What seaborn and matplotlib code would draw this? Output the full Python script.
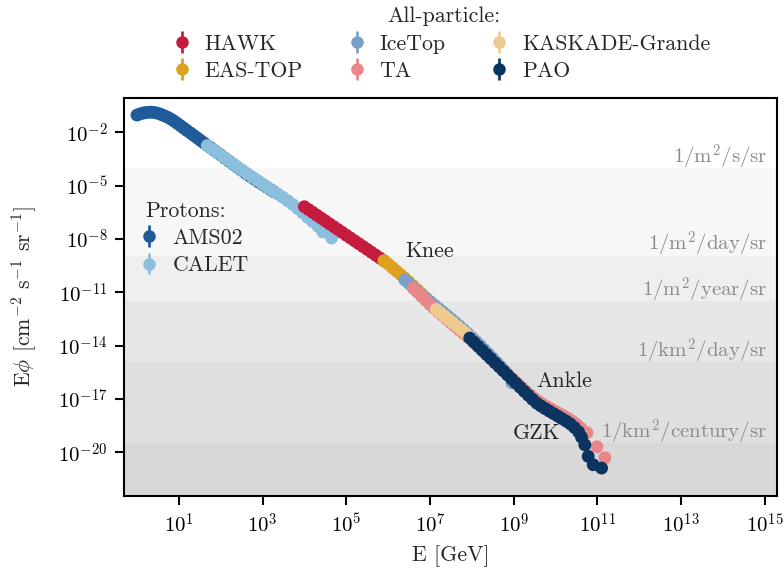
import numpy as np
import pandas as pd
import matplotlib
matplotlib.use("Agg")
import matplotlib.pyplot as plt
import seaborn as sns
from matplotlib.lines import Line2D
from matplotlib.collections import LineCollection
from matplotlib.container import ErrorbarContainer
from matplotlib.ticker import FixedLocator, FuncFormatter, NullLocator
import matplotlib.transforms as mtransforms

# ---------------- data (log10 E [GeV], log10 E*phi [cm^-2 s^-1 sr^-1]) ----------------
ams02_logE = [0.00, 0.08, 0.16, 0.24, 0.32, 0.40, 0.48, 0.56, 0.64, 0.72, 0.80, 0.88,
              0.96, 1.04, 1.12, 1.20, 1.28, 1.36, 1.44, 1.52, 1.60, 1.68, 1.76, 1.84,
              1.92, 2.00, 2.10, 2.20, 2.30, 2.40, 2.50, 2.60, 2.70, 2.80, 2.90, 3.00,
              3.10, 3.20, 3.26]
ams02_logF = [-1.02, -0.95, -0.90, -0.87, -0.86, -0.87, -0.91, -0.97, -1.05, -1.13, -1.23, -1.35,
              -1.48, -1.62, -1.76, -1.90, -2.03, -2.17, -2.31, -2.45, -2.59, -2.73, -2.86, -3.00,
              -3.14, -3.27, -3.45, -3.62, -3.79, -3.96, -4.13, -4.30, -4.46, -4.62, -4.78, -4.93,
              -5.08, -5.23, -5.32]

calet_logE = [1.68, 1.80, 1.92, 2.04, 2.16, 2.28, 2.40, 2.52, 2.64, 2.76, 2.88, 3.00,
              3.12, 3.24, 3.36, 3.48, 3.60, 3.72, 3.84, 3.96, 4.08, 4.20, 4.32, 4.44, 4.65]
calet_logF = [-2.74, -2.94, -3.14, -3.34, -3.54, -3.74, -3.94, -4.14, -4.33, -4.52, -4.71, -4.90,
              -5.09, -5.28, -5.46, -5.64, -5.84, -6.05, -6.28, -6.52, -6.78, -7.02, -7.27, -7.60, -7.94]

hawk_logE = [4.0, 4.1, 4.2, 4.3, 4.4, 4.5, 4.6, 4.7, 4.8, 4.9, 5.0, 5.1, 5.2, 5.3, 5.4,
             5.5, 5.6, 5.7, 5.8, 5.9]
hawk_logF = [-6.18, -6.34, -6.50, -6.66, -6.82, -6.98, -7.14, -7.30, -7.46, -7.62, -7.78,
             -7.94, -8.10, -8.26, -8.42, -8.58, -8.74, -8.90, -9.06, -9.22]

eastop_logE = [5.9, 6.0, 6.1, 6.2, 6.3, 6.4, 6.5, 6.6, 6.7, 6.8, 6.9, 7.0]
eastop_logF = [-9.22, -9.40, -9.60, -9.80, -10.00, -10.20, -10.42, -10.64, -10.86, -11.08, -11.30, -11.52]

icetop_logE = [6.4, 6.5, 6.6, 6.7, 6.8, 6.9, 7.0, 7.1, 7.2, 7.3, 7.4, 7.5, 7.6, 7.7, 7.8,
               7.9, 8.0, 8.1, 8.2, 8.3, 8.4, 8.5, 8.6, 8.7, 8.8, 8.96]
icetop_logF = [-10.30, -10.50, -10.72, -10.93, -11.13, -11.33, -11.52, -11.71, -11.90, -12.09,
               -12.28, -12.48, -12.68, -12.88, -13.09, -13.30, -13.52, -13.75, -13.98, -14.22,
               -14.46, -14.70, -14.95, -15.20, -15.45, -16.09]

ta_logE = [6.6, 6.7, 6.8, 6.9, 7.0, 7.1, 7.2, 7.3, 7.4, 7.5, 7.6, 7.7, 7.8, 7.9, 8.0, 8.1,
           8.2, 8.3, 8.4, 8.5, 8.6, 8.7, 8.8, 8.9, 9.0, 9.1, 9.2, 9.3, 9.4, 9.5, 9.6, 9.7,
           9.8, 9.9, 10.0, 10.1, 10.2, 10.3, 10.4, 10.5, 10.6, 10.75, 10.99, 11.18]
ta_logF = [-10.76, -10.99, -11.22, -11.45, -11.68, -11.90, -12.11, -12.31, -12.51, -12.71,
           -12.91, -13.11, -13.31, -13.51, -13.71, -13.93, -14.15, -14.37, -14.60, -14.82,
           -15.05, -15.27, -15.49, -15.71, -15.93, -16.15, -16.37, -16.58, -16.78, -16.97,
           -17.14, -17.30, -17.44, -17.57, -17.70, -17.83, -17.96, -18.10, -18.25, -18.43,
           -18.63, -18.90, -19.69, -20.31]

kascade_logE = [7.15, 7.25, 7.35, 7.45, 7.55, 7.65, 7.75, 7.85, 7.95]
kascade_logF = [-11.96, -12.15, -12.34, -12.53, -12.72, -12.91, -13.10, -13.30, -13.50]

pao_logE = [7.95, 8.05, 8.15, 8.25, 8.35, 8.45, 8.55, 8.65, 8.75, 8.85, 8.95, 9.05, 9.15,
            9.25, 9.35, 9.45, 9.55, 9.65, 9.75, 9.85, 9.95, 10.05, 10.15, 10.25, 10.35,
            10.45, 10.55, 10.62, 10.70, 10.78, 10.90, 11.10]
pao_logF = [-13.57, -13.80, -14.03, -14.26, -14.49, -14.72, -14.95, -15.18, -15.41, -15.64,
            -15.87, -16.10, -16.33, -16.56, -16.79, -17.02, -17.23, -17.39, -17.54, -17.68,
            -17.82, -17.96, -18.10, -18.24, -18.40, -18.60, -18.85, -19.15, -19.58, -20.23,
            -20.70, -20.89]

proton_names = ["AMS02", "CALET"]
allpart_names = ["HAWK", "EAS-TOP", "IceTop", "TA", "KASKADE-Grande", "PAO"]
colors = {"AMS02": "#1f5b9b", "CALET": "#8cbfdd", "HAWK": "#c41b3f",
          "EAS-TOP": "#dca11d", "IceTop": "#7aa0c9", "TA": "#e8868a",
          "KASKADE-Grande": "#efca8f", "PAO": "#0b3460"}

series = {"AMS02": (ams02_logE, ams02_logF), "CALET": (calet_logE, calet_logF),
          "HAWK": (hawk_logE, hawk_logF), "EAS-TOP": (eastop_logE, eastop_logF),
          "IceTop": (icetop_logE, icetop_logF), "TA": (ta_logE, ta_logF),
          "KASKADE-Grande": (kascade_logE, kascade_logF), "PAO": (pao_logE, pao_logF)}

rate_levels = [1e-4, 1.157e-9, 3.169e-12, 1.157e-15, 3.169e-20]
rate_labels = [r"$1/\mathrm{m}^2/\mathrm{s}/\mathrm{sr}$",
               r"$1/\mathrm{m}^2/\mathrm{day}/\mathrm{sr}$",
               r"$1/\mathrm{m}^2/\mathrm{year}/\mathrm{sr}$",
               r"$1/\mathrm{km}^2/\mathrm{day}/\mathrm{sr}$",
               r"$1/\mathrm{km}^2/\mathrm{century}/\mathrm{sr}$"]

features = ["Knee", "Ankle", "GZK"]
feature_logE = [6.42, 9.55, 8.98]
feature_logF = [-8.66, -15.98, -18.95]

x_ticks_exp = [1, 3, 5, 7, 9, 11, 13, 15]
y_ticks_exp = [-20, -17, -14, -11, -8, -5, -2]

# ---------------- style ----------------
sns.set_theme(style="ticks")
plt.rcParams.update({
    "font.family": "serif",
    "font.serif": ["cmr10"],
    "mathtext.fontset": "cm",
    "axes.formatter.use_mathtext": True,
    "axes.unicode_minus": False,
    "font.size": 10.5,
    "axes.linewidth": 1.0,
    "axes.edgecolor": "black",
    "xtick.major.size": 4.5,
    "ytick.major.size": 4.5,
    "xtick.major.width": 1.0,
    "ytick.major.width": 1.0,
    "xtick.color": "black",
    "ytick.color": "black",
    "xtick.labelsize": 10,
    "ytick.labelsize": 10,
    "axes.labelsize": 10.5,
})

rows = []
for name in proton_names + allpart_names:
    le, lf = series[name]
    for a, b in zip(le, lf):
        rows.append((10.0 ** a, 10.0 ** b, name))
df = pd.DataFrame(rows, columns=["E", "flux", "dataset"])

fig = plt.figure(figsize=(784 / 150, 572 / 150), dpi=150)
ax = fig.add_axes([124 / 784, 1 - 496 / 572, (777 - 124) / 784, (496 - 98) / 572])

for lvl in rate_levels:
    ax.axhspan(1e-40, lvl, color="black", alpha=0.03, lw=0, zorder=0)

sns.scatterplot(data=df, x="E", y="flux", hue="dataset", palette=colors,
                hue_order=proton_names + allpart_names, s=38, linewidth=0,
                legend=False, ax=ax, zorder=2)

ax.set_xscale("log")
ax.set_yscale("log")
ax.set_xlim(10 ** -0.31, 10 ** 15.29)
ax.set_ylim(10 ** -22.46, 10 ** -0.06)
ax.xaxis.set_major_locator(FixedLocator([10.0 ** e for e in x_ticks_exp]))
ax.yaxis.set_major_locator(FixedLocator([10.0 ** e for e in y_ticks_exp]))
ax.xaxis.set_minor_locator(NullLocator())
ax.yaxis.set_minor_locator(NullLocator())
fmt = FuncFormatter(lambda v, p: r"$10^{%d}$" % int(round(np.log10(v))))
ax.xaxis.set_major_formatter(fmt)
ax.yaxis.set_major_formatter(fmt)
ax.set_xlabel("E [GeV]", labelpad=4)
ax.set_ylabel(r"E$\phi$ [cm$^{-2}$ s$^{-1}$ sr$^{-1}$]", labelpad=9)

trans = mtransforms.blended_transform_factory(ax.transAxes, ax.transData)
for lvl, lab in zip(rate_levels, rate_labels):
    ax.annotate(lab, xy=(0.985, lvl), xycoords=trans, xytext=(0, 2.2),
                textcoords="offset points", ha="right", va="baseline",
                color="0.55", fontsize=10, zorder=3)

for name, le, lf in zip(features, feature_logE, feature_logF):
    ax.text(10 ** le, 10 ** lf, name, ha="left", va="center", fontsize=10.5, zorder=3)


def eb_handle(name):
    c = colors[name]
    line = Line2D([], [], marker="o", ls="none", color=c, markersize=5)
    bar = LineCollection([], colors=[c], linewidths=1.3)
    return ErrorbarContainer((line, (), (bar,)), has_xerr=False, has_yerr=True, label=name)


h_all = [eb_handle(n) for n in allpart_names]
leg1 = ax.legend(handles=h_all, labels=allpart_names, title="All-particle:", ncol=3,
                 loc="lower center", bbox_to_anchor=(0.49, 1.005), frameon=False,
                 fontsize=10.5, title_fontsize=10.5, handlelength=0.4, handletextpad=0.85,
                 columnspacing=2.25, labelspacing=0.35, borderpad=0.2)
ax.add_artist(leg1)

h_pro = [eb_handle(n) for n in proton_names]
leg2 = ax.legend(handles=h_pro, labels=proton_names, title="Protons:", loc="upper left",
                 bbox_to_anchor=(0.002, 0.79), frameon=False, fontsize=10.5,
                 title_fontsize=10.5, handlelength=0.4, handletextpad=0.85,
                 labelspacing=0.35, alignment="left")

fig.savefig("out.png", dpi=150)
